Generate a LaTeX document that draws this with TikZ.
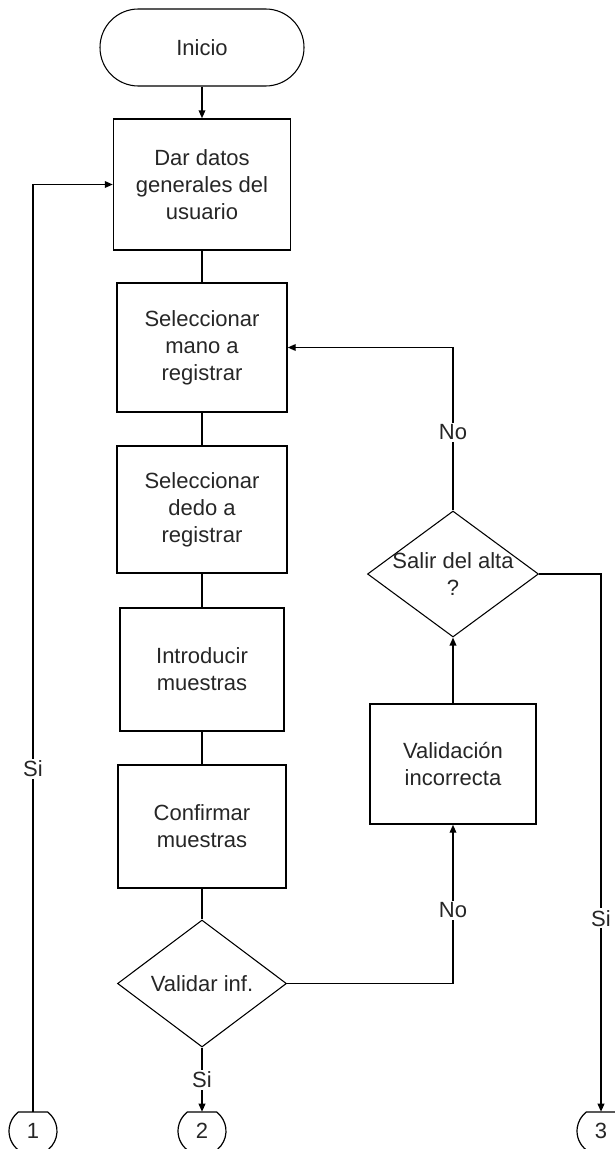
\documentclass[tikz,border=0pt]{standalone}
\usepackage{fontspec}
\setmainfont{Liberation Sans}
\usetikzlibrary{shapes.geometric,arrows.meta}
\begin{document}
\begin{tikzpicture}[x=0.75pt,y=-0.75pt,
  every node/.style={font=\fontsize{16.5pt}{20.2pt}\selectfont, text=black!85, align=center},
  flow/.style={draw=black, line width=1.1pt},
  box/.style={draw=black, line width=1.1pt, rectangle, inner sep=0pt},
  dia/.style={draw=black, line width=0.8pt, diamond, inner sep=0pt},
  term/.style={draw=black, line width=0.8pt, rectangle, rounded corners=28.8pt, inner sep=0pt,
               minimum width=153pt, minimum height=57.75pt},
  conn/.style={rectangle, inner sep=0pt, minimum width=36pt, minimum height=28.5pt},
  connline/.style={draw=black, line width=0.9pt},
  arr/.style={flow, -{Triangle[length=6pt,width=5pt]}},
  lab/.style={fill=white, inner sep=1.5pt},
]
\useasboundingbox (0,0) rectangle (614,1149);

% main column
\node[term] (start) at (202,47.5) {Inicio};
\node[box, minimum width=132.75pt, minimum height=98.25pt] (b1) at (202,184.5) {Dar datos\\generales del\\usuario};
\node[box, minimum width=127.5pt, minimum height=96.75pt] (b2) at (202,347.5) {Seleccionar\\mano a\\registrar};
\node[box, minimum width=127.5pt, minimum height=95.25pt] (b3) at (202,509.5) {Seleccionar\\dedo a\\registrar};
\node[box, minimum width=123pt, minimum height=92.25pt] (b4) at (202,669.5) {Introducir\\muestras};
\node[box, minimum width=126pt, minimum height=92.25pt] (b5) at (202,826.5) {Confirmar\\muestras};
\node[dia, minimum width=126.75pt, minimum height=95.25pt] (d1) at (202,983.5) {};
\node at (d1.center) {Validar inf.};

% right column
\node[box, minimum width=124.5pt, minimum height=90pt] (v) at (453,764) {Validación\\incorrecta};
\node[dia, minimum width=128.25pt, minimum height=94.5pt] (d2) at (453,574) {};
\node at (d2.center) {Salir del alta\\?};

% off-page connectors
\foreach \n/\x in {c1/33, c2/202, c3/601}{
  \node[conn] (\n) at (\x,1131) {};
  \draw[connline] ([shift={(52.3:18pt)}]\n.center) arc[start angle=52.3, end angle=-232.3, radius=18pt] -- cycle;
}
\node at (c1.center) {1};
\node at (c2.center) {2};
\node at (c3.center) {3};

% connectors
\draw[arr] (start) -- (b1);
\draw[flow] (b1) -- (b2);
\draw[flow] (b2) -- (b3);
\draw[flow] (b3) -- (b4);
\draw[flow] (b4) -- (b5);
\draw[flow] (b5) -- (d1);
\draw[arr] (d1) -- node[lab]{Si} (c2.north);
\draw[arr] (d1.east) -| node[lab, pos=0.73]{No} (v.south);
\draw[arr] (v) -- (d2);
\draw[arr] (d2.north) |- node[lab, pos=0.24]{No} (b2.east);
\draw[arr] (d2.east) -| node[lab, pos=0.82]{Si} (c3.north);
\draw[arr] (c1.north) |- node[lab, pos=0.185]{Si} (b1.west);
\end{tikzpicture}
\end{document}
